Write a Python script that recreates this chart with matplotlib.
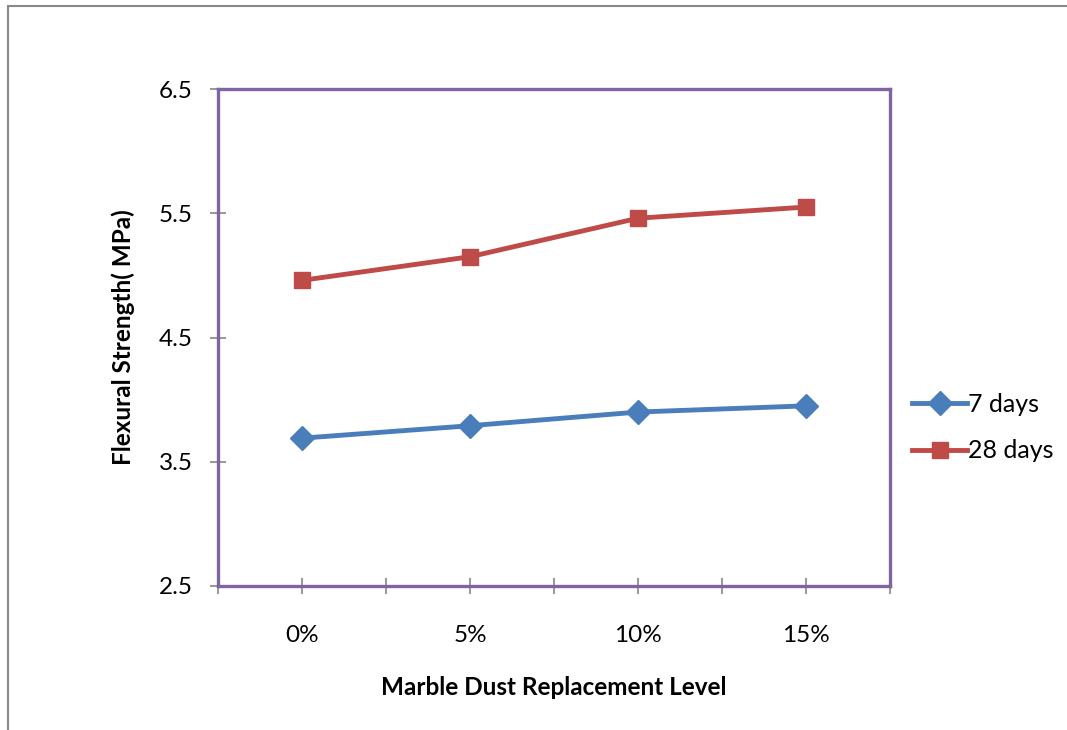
import numpy as np
import matplotlib.pyplot as plt
from matplotlib.patches import Rectangle

# Data
levels = ['0%', '5%', '10%', '15%']
days_7 = [3.69, 3.79, 3.90, 3.95]
days_28 = [4.96, 5.15, 5.46, 5.55]
y_ticks = [2.5, 3.5, 4.5, 5.5, 6.5]

plt.rcParams['font.family'] = ['Lato', 'DejaVu Sans']

fig = plt.figure(figsize=(10.67, 7.3), dpi=100)
ax = fig.add_axes([218 / 1067, 1 - 586 / 730, 672 / 1067, 497 / 730])

# outer chart frame (runs off the right and bottom edge)
fig.patches.append(Rectangle((8 / 1067, -0.05), 1.2, 1 - 6 / 730 + 0.05,
                             transform=fig.transFigure, fill=False,
                             edgecolor='#898989', linewidth=1.5))

x = np.arange(len(levels))
ax.plot(x, days_7, color='#4A7EBB', linewidth=3.5, marker='D', markersize=12,
        label='7 days')
ax.plot(x, days_28, color='#BE4B48', linewidth=3.5, marker='s', markersize=12,
        label='28 days')

ax.set_xlim(-0.5, 3.5)
ax.set_ylim(2.5, 6.5)
ax.set_yticks(y_ticks)
ax.set_yticklabels([f'{v:.1f}' for v in y_ticks])
ax.set_xticks(np.arange(-0.5, 3.51, 0.5))
ax.set_xticklabels(['' if i % 2 == 0 else levels[i // 2] for i in range(9)])

for s in ax.spines.values():
    s.set_color('#8064A2')
    s.set_linewidth(2.4)

ax.tick_params(axis='both', direction='inout', length=12, width=1.2,
               color='#868686', labelsize=17.5)
ax.tick_params(axis='y', pad=12)
ax.tick_params(axis='x', pad=22)

ax.set_xlabel('Marble Dust Replacement Level', fontsize=17.5, fontweight='bold',
              labelpad=22)
ax.set_ylabel('Flexural Strength( MPa)', fontsize=17.5, fontweight='bold',
              labelpad=17)

leg = ax.legend(loc='center left', bbox_to_anchor=(1.018, 0.319), frameon=False,
                fontsize=18, handlelength=2.2, handletextpad=0.05,
                labelspacing=0.95, borderaxespad=0)

fig.savefig('out.png', dpi=100)
